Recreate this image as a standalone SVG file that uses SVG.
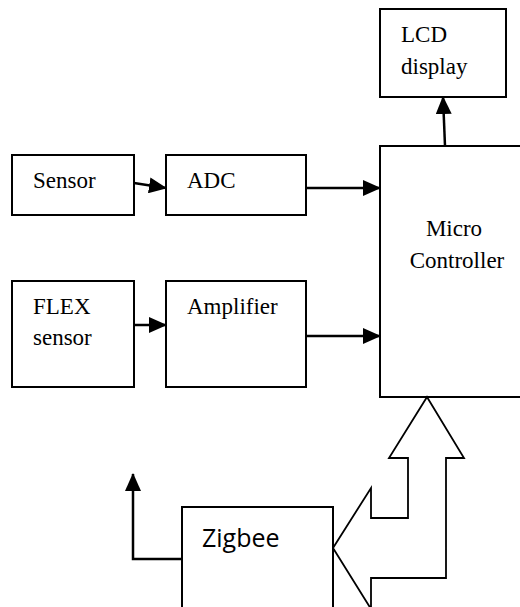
<svg xmlns="http://www.w3.org/2000/svg" width="520" height="607" viewBox="0 0 520 607">
<defs>
<style>
.box{fill:#fff;stroke:#000;stroke-width:2}
.t{font-family:"Liberation Serif","Times New Roman",serif;font-size:23px;fill:#000}
.ts{font-family:"Open Sans","Liberation Sans",sans-serif;font-size:25px;fill:#000}
.c{fill:none;stroke:#000;stroke-width:2.5}
.blk{fill:#fff;stroke:#000;stroke-width:1.8;stroke-linejoin:miter}
</style>
<marker id="ah" markerUnits="userSpaceOnUse" markerWidth="18" markerHeight="16" viewBox="0 0 18 16" refX="17" refY="8" orient="auto">
<path d="M0,0 L18,8 L0,16 z" fill="#000"/>
</marker>
</defs>
<rect width="520" height="607" fill="#fff"/>
<g id="lcd"><rect class="box" x="380" y="9" width="126" height="88"/><text class="t" x="401" y="42">LCD</text><text class="t" x="401" y="74">display</text></g>
<g id="sensor"><rect class="box" x="12" y="155" width="122" height="60"/><text class="t" x="33" y="188">Sensor</text></g>
<g id="adc"><rect class="box" x="166" y="155" width="140" height="60"/><text class="t" x="187" y="188">ADC</text></g>
<g id="mc"><rect class="box" x="380" y="146" width="150" height="251"/><text class="t" x="454" y="236" text-anchor="middle">Micro</text><text class="t" x="457" y="268" text-anchor="middle">Controller</text></g>
<g id="flex"><rect class="box" x="12" y="281" width="122" height="106"/><text class="t" x="33" y="314">FLEX</text><text class="t" x="33" y="345">sensor</text></g>
<g id="amp"><rect class="box" x="166" y="281" width="140" height="106"/><text class="t" x="187" y="314">Amplifier</text></g>
<g id="zigbee"><rect class="box" x="182" y="507" width="151" height="110"/><text class="ts" x="202" y="547">Zigbee</text></g>
<g id="connectors">
<line class="c" x1="134" y1="183" x2="166" y2="188" marker-end="url(#ah)"/>
<line class="c" x1="306" y1="188" x2="380" y2="188" marker-end="url(#ah)"/>
<line class="c" x1="134" y1="325" x2="166" y2="325" marker-end="url(#ah)"/>
<line class="c" x1="306" y1="336" x2="380" y2="336" marker-end="url(#ah)"/>
<line class="c" x1="445" y1="146" x2="443" y2="97" marker-end="url(#ah)"/>
<polyline class="c" points="182,559 133,559 133,474" marker-end="url(#ah)"/>
<path class="blk" d="M427,397 L464,458 L446,458 L446,578 L371,578 L371,609 L333,548 L371,488 L371,518 L408,518 L408,458 L389,458 Z"/>
</g>
</svg>
